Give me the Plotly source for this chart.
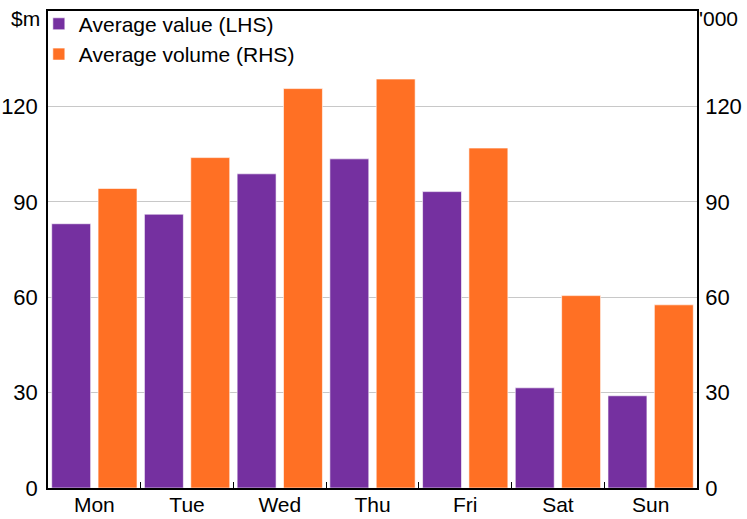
import plotly.graph_objects as go
from plotly.subplots import make_subplots

# datos
dias = ['Mon', 'Tue', 'Wed', 'Thu', 'Fri', 'Sat', 'Sun']
valor_medio = [83.1, 86.1, 98.8, 103.5, 93.2, 31.5, 29.0]       # $m (LHS)
volumen_medio = [94.2, 103.9, 125.6, 128.6, 106.9, 60.5, 57.6]  # '000 (RHS)
ticks_y = [0, 30, 60, 90, 120]

morado = '#7530A0'
naranja = '#FF7024'
fuente = 'Liberation Sans, Arial, sans-serif'

fig = make_subplots(specs=[[{'secondary_y': True}]])

fig.add_trace(go.Bar(x=dias, y=valor_medio, name='Average value (LHS)',
                     marker=dict(color=morado, line=dict(color='rgba(255,255,255,0.6)', width=1)),
                     width=0.42, offset=-0.46),
              secondary_y=False)
fig.add_trace(go.Bar(x=dias, y=volumen_medio, name='Average volume (RHS)',
                     marker=dict(color=naranja, line=dict(color='rgba(255,255,255,0.6)', width=1)),
                     width=0.42, offset=0.04),
              secondary_y=True)

fig.update_layout(
    width=747, height=519,
    margin=dict(l=48, r=50, t=11, b=31, autoexpand=False),
    plot_bgcolor='white', paper_bgcolor='white',
    font=dict(family=fuente, size=22, color='black'),
    barmode='group',
    showlegend=True,
    legend=dict(xref='container', yref='container', x=0.052, y=0.993,
                xanchor='left', yanchor='top',
                bgcolor='rgba(0,0,0,0)', itemwidth=30,
                font=dict(size=21), tracegroupgap=0,
                itemclick=False),
)

fig.update_xaxes(domain=[0, 1], showline=True, linecolor='black', linewidth=1.5, mirror=True,
                 ticks='inside', tickson='boundaries', ticklen=6, tickcolor='black',
                 showgrid=False, tickfont=dict(size=21), ticklabelstandoff=-3,
                 automargin=False)
fig.update_yaxes(range=[0, 150], tickvals=ticks_y, showgrid=True, gridcolor='#c8c8c8',
                 gridwidth=1.2, zeroline=False, showline=True, linecolor='black',
                 linewidth=1.5, mirror=True, ticks='', ticklabelstandoff=4,
                 tickfont=dict(size=22), automargin=False, secondary_y=False)
fig.update_yaxes(range=[0, 150], tickvals=ticks_y, showgrid=False, zeroline=False,
                 showline=True, linecolor='black', linewidth=1.5, ticks='',
                 ticklabelstandoff=2, tickfont=dict(size=22), automargin=False,
                 secondary_y=True)

fig.add_annotation(text='$m', xref='paper', yref='paper', x=0, y=0.985,
                   xanchor='right', yanchor='middle', xshift=-6, showarrow=False,
                   font=dict(size=21))
fig.add_annotation(text="'000", xref='paper', yref='paper', x=1, y=0.985,
                   xanchor='left', yanchor='middle', xshift=0, showarrow=False,
                   font=dict(size=21))

# quitar el margen del body para que la figura ocupe la ventana
fig.write_html('out.html', config={'displayModeBar': False},
               post_script="document.body.style.margin='0';")
